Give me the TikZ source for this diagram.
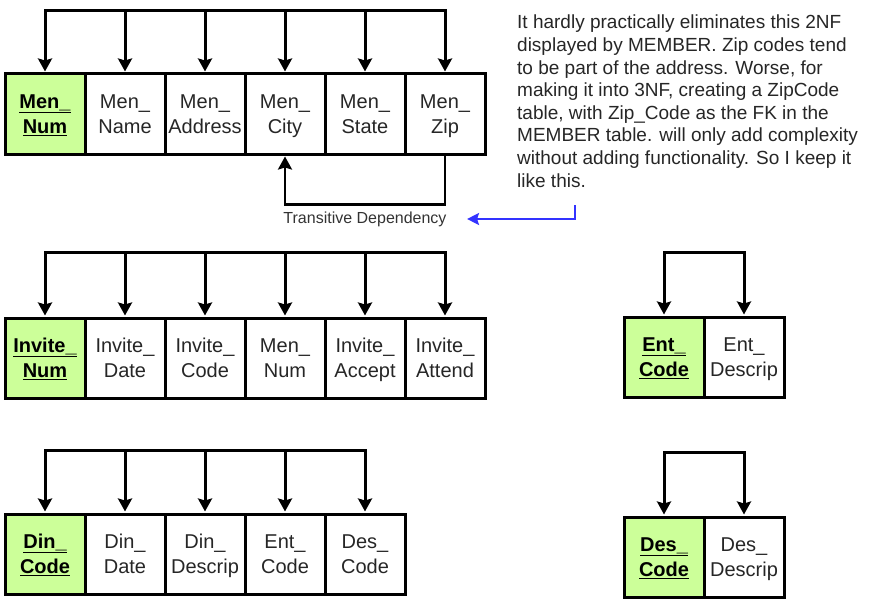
\documentclass[tikz,border=0pt]{standalone}
\usepackage{fontspec}
\setmainfont{Liberation Sans}
\usetikzlibrary{positioning,arrows.meta}
\definecolor{keygreen}{HTML}{CCFF99}
\definecolor{noteblue}{HTML}{3333FF}
\newcommand{\twoline}[2]{\rule{0pt}{21.5pt}#1\strut\\#2\strut}

\begin{document}
\begin{tikzpicture}[x=1pt,y=-1pt,node distance=80pt,on grid,
    cell/.style={draw,line width=3pt,minimum width=80pt,minimum height=80pt,
      inner sep=0pt,align=center,text=black!85,font=\fontsize{20}{25}\selectfont},
    keycell/.style={cell,fill=keygreen,text=black,font=\fontsize{20}{25}\selectfont\bfseries},
    dep/.style={line width=3pt,shorten >=1pt,-{Stealth[length=13pt,width=14pt,inset=2pt]}},
    bar/.style={line width=3pt,line cap=rect}]
    \useasboundingbox (0,0) rectangle (889,602);
    % MEMBER
    \node[keycell] (men_num) at (45,114) {\twoline{\underline{Men\_}}{\underline{Num}}};
    \node[cell] (men_name) [right=of men_num] {\twoline{Men\_}{Name}};
    \node[cell] (men_address) [right=of men_name] {\twoline{Men\_}{Address}};
    \node[cell] (men_city) [right=of men_address] {\twoline{Men\_}{City}};
    \node[cell] (men_state) [right=of men_city] {\twoline{Men\_}{State}};
    \node[cell] (men_zip) [right=of men_state] {\twoline{Men\_}{Zip}};
    \foreach \c in {men_num,men_name,men_address,men_city,men_state,men_zip}
        \draw[dep] ([yshift=62pt]\c.north) coordinate (\c-t) -- (\c);
    \draw[bar] (men_num-t) -- (men_zip-t);
    \draw[dep,line width=2.5pt] (men_zip.south) -- ++(0,49) -| (men_city.south);
    % INVITATION
    \node[keycell] (inv_num) at (45,358) {\twoline{\underline{Invite\_}}{\underline{Num}}};
    \node[cell] (inv_date) [right=of inv_num] {\twoline{Invite\_}{Date}};
    \node[cell] (inv_code) [right=of inv_date] {\twoline{Invite\_}{Code}};
    \node[cell] (inv_men) [right=of inv_code] {\twoline{Men\_}{Num}};
    \node[cell] (inv_accept) [right=of inv_men] {\twoline{Invite\_}{Accept}};
    \node[cell] (inv_attend) [right=of inv_accept] {\twoline{Invite\_}{Attend}};
    \foreach \c in {inv_num,inv_date,inv_code,inv_men,inv_accept,inv_attend}
        \draw[dep] ([yshift=64pt]\c.north) coordinate (\c-t) -- (\c);
    \draw[bar] (inv_num-t) -- (inv_attend-t);
    % DINNER
    \node[keycell] (din_code) at (45,554) {\twoline{\underline{Din\_}}{\underline{Code}}};
    \node[cell] (din_date) [right=of din_code] {\twoline{Din\_}{Date}};
    \node[cell] (din_descrip) [right=of din_date] {\twoline{Din\_}{Descrip}};
    \node[cell] (din_ent) [right=of din_descrip] {\twoline{Ent\_}{Code}};
    \node[cell] (din_des) [right=of din_ent] {\twoline{Des\_}{Code}};
    \foreach \c in {din_code,din_date,din_descrip,din_ent,din_des}
        \draw[dep] ([yshift=62pt]\c.north) coordinate (\c-t) -- (\c);
    \draw[bar] (din_code-t) -- (din_des-t);
    % ENTREE
    \node[keycell] (ent_code) at (664,357) {\twoline{\underline{Ent\_}}{\underline{Code}}};
    \node[cell] (ent_descrip) [right=of ent_code] {\twoline{Ent\_}{Descrip}};
    \foreach \c in {ent_code,ent_descrip}
        \draw[dep] ([yshift=63pt]\c.north) coordinate (\c-t) -- (\c);
    \draw[bar] (ent_code-t) -- (ent_descrip-t);
    % DESSERT
    \node[keycell] (des_code) at (664,557) {\twoline{\underline{Des\_}}{\underline{Code}}};
    \node[cell] (des_descrip) [right=of des_code] {\twoline{Des\_}{Descrip}};
    \foreach \c in {des_code,des_descrip}
        \draw[dep] ([yshift=63pt]\c.north) coordinate (\c-t) -- (\c);
    \draw[bar] (des_code-t) -- (des_descrip-t);
    % note
    \node[font=\fontsize{16}{19}\selectfont,text=black!80] (trans) at (365,219) {Transitive Dependency};
    \node[anchor=north west,inner sep=0pt,align=left,text=black!85,
      font=\fontsize{19}{22.6}\selectfont] (note) at (517,15)
      {It hardly practically eliminates this 2NF\\
       displayed by MEMBER. Zip codes tend\\
       to be part of the address. Worse, for\\
       making it into 3NF, creating a ZipCode\\
       table, with Zip\_Code as the FK in the\\
       MEMBER table. will only add complexity\\
       without adding functionality. So I keep it\\
       like this.};
    \coordinate (note_tail) at (575,205);
    \draw[noteblue,line width=2pt,-{Stealth[length=12pt,width=12pt,inset=2pt]}]
      (note_tail) |- ([xshift=17pt]trans.east);
\end{tikzpicture}
\end{document}
